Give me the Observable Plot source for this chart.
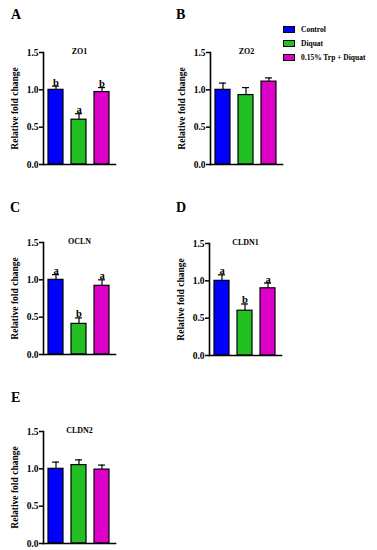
<!DOCTYPE html>
<html>
<head>
<meta charset="utf-8">
<script src="https://cdn.jsdelivr.net/npm/d3@7"></script>
<script src="https://cdn.jsdelivr.net/npm/@observablehq/plot@0.6"></script>
<style>
  html, body { margin: 0; padding: 0; background: #fff; }
  #wrap { position: relative; width: 377px; height: 550px; overflow: hidden; font-family: "Liberation Serif", serif; }
  .panel { position: absolute; }
  .letter { position: absolute; font-size: 14px; font-weight: bold; line-height: 1; font-family: "Liberation Serif", serif; }
  #legend { position: absolute; left: 283px; top: 23px; font-size: 7.5px; font-weight: bold; font-family: "Liberation Serif", serif; }
  .row { display: flex; align-items: center; height: 13.7px; }
  .sw { width: 10px; height: 5px; border: 0.8px solid #000; margin-right: 6px; }
  svg.panel text { font-family: "Liberation Serif", serif; }
</style>
</head>
<body>
<div id="wrap"></div>
<script>
// ---- data ----
const groups = ["Control", "Diquat", "0.15% Trp + Diquat"];
const colors = ["#0000ff", "#22c022", "#dc00c8"];
const genes = ["ZO1", "ZO2", "OCLN", "CLDN1", "CLDN2"];
const panelLetters = ["A", "B", "C", "D", "E"];
const yTicks = [0, 0.5, 1.0, 1.5];
const yLabel = "Relative fold change";

const zo1Mean = [1.00, 0.60, 0.97];
const zo1Err  = [0.05, 0.08, 0.06];
const zo1Sig  = ["b", "a", "b"];

const zo2Mean = [1.00, 0.93, 1.11];
const zo2Err  = [0.09, 0.10, 0.05];
const zo2Sig  = ["", "", ""];

const oclnMean = [1.00, 0.41, 0.92];
const oclnErr  = [0.07, 0.08, 0.08];
const oclnSig  = ["a", "b", "a"];

const cldn1Mean = [1.00, 0.60, 0.90];
const cldn1Err  = [0.08, 0.09, 0.07];
const cldn1Sig  = ["a", "b", "a"];

const cldn2Mean = [1.00, 1.05, 0.99];
const cldn2Err  = [0.09, 0.07, 0.06];
const cldn2Sig  = ["", "", ""];

const allMeans = [zo1Mean, zo2Mean, oclnMean, cldn1Mean, cldn2Mean];
const allErrs  = [zo1Err, zo2Err, oclnErr, cldn1Err, cldn2Err];
const allSigs  = [zo1Sig, zo2Sig, oclnSig, cldn1Sig, cldn2Sig];

// ---- layout ----
const panelPos = [
  {left: 0,   top: 0},
  {left: 167, top: 0},
  {left: 0,   top: 190},
  {left: 166, top: 191},
  {left: 0,   top: 379}
];
const letterPos = [
  {left: 11, top: 8},
  {left: 176, top: 8},
  {left: 10, top: 201},
  {left: 176, top: 201},
  {left: 11, top: 391}
];

const wrap = document.getElementById("wrap");
const font = "Liberation Serif, serif";

genes.forEach((gene, i) => {
  const data = groups.map((g, j) => ({
    group: g, mean: allMeans[i][j], err: allErrs[i][j], sig: allSigs[i][j]
  }));
  const chart = Plot.plot({
    width: 160,
    height: 170,
    marginLeft: 43,
    marginRight: 45,
    marginTop: 52,
    marginBottom: 6,
    style: {fontFamily: font, fontWeight: "bold", color: "#000", background: "transparent", overflow: "visible"},
    x: {domain: groups, paddingInner: 0.33, paddingOuter: 0.2, axis: null},
    y: {domain: [0, 1.5]},
    color: {domain: groups, range: colors},
    marks: [
      Plot.barY(data, {x: "group", y: "mean", fill: "group", stroke: "#000", strokeWidth: 1.2}),
      Plot.ruleX(data, {x: "group", y1: "mean", y2: d => d.mean + d.err, stroke: "#000", strokeWidth: 1.2}),
      Plot.tickY(data, {x: "group", y: d => d.mean + d.err, insetLeft: 4, insetRight: 4, stroke: "#000", strokeWidth: 1.2}),
      Plot.text(data, {x: "group", y: d => d.mean + d.err, text: "sig", lineAnchor: "bottom", dy: -0.5, fontSize: 10.5, fontWeight: "bold"}),
      Plot.axisY({
        ticks: yTicks, tickFormat: d3.format(".1f"), tickSize: 4, tickPadding: 1,
        strokeWidth: 1.5, fontSize: 9.5, fontWeight: "bold",
        label: yLabel, labelAnchor: "center", labelArrow: "none", labelOffset: 32
      }),
      Plot.frame({anchor: "left", stroke: "#000", strokeWidth: 1.6}),
      Plot.frame({anchor: "bottom", stroke: "#000", strokeWidth: 1.6}),
      Plot.text([gene], {text: d => d, frameAnchor: "top", lineAnchor: "middle", dy: -1, fontSize: 8, fontWeight: "bold"})
    ]
  });
  chart.classList.add("panel");
  chart.style.left = panelPos[i].left + "px";
  chart.style.top = panelPos[i].top + "px";
  wrap.appendChild(chart);

  const L = document.createElement("div");
  L.className = "letter";
  L.textContent = panelLetters[i];
  L.style.left = letterPos[i].left + "px";
  L.style.top = letterPos[i].top + "px";
  wrap.appendChild(L);
});

// legend
const legend = document.createElement("div");
legend.id = "legend";
groups.forEach((g, j) => {
  const row = document.createElement("div");
  row.className = "row";
  const sw = document.createElement("div");
  sw.className = "sw";
  sw.style.background = colors[j];
  const t = document.createElement("span");
  t.textContent = g;
  row.appendChild(sw);
  row.appendChild(t);
  legend.appendChild(row);
});
wrap.appendChild(legend);
</script>
</body>
</html>
